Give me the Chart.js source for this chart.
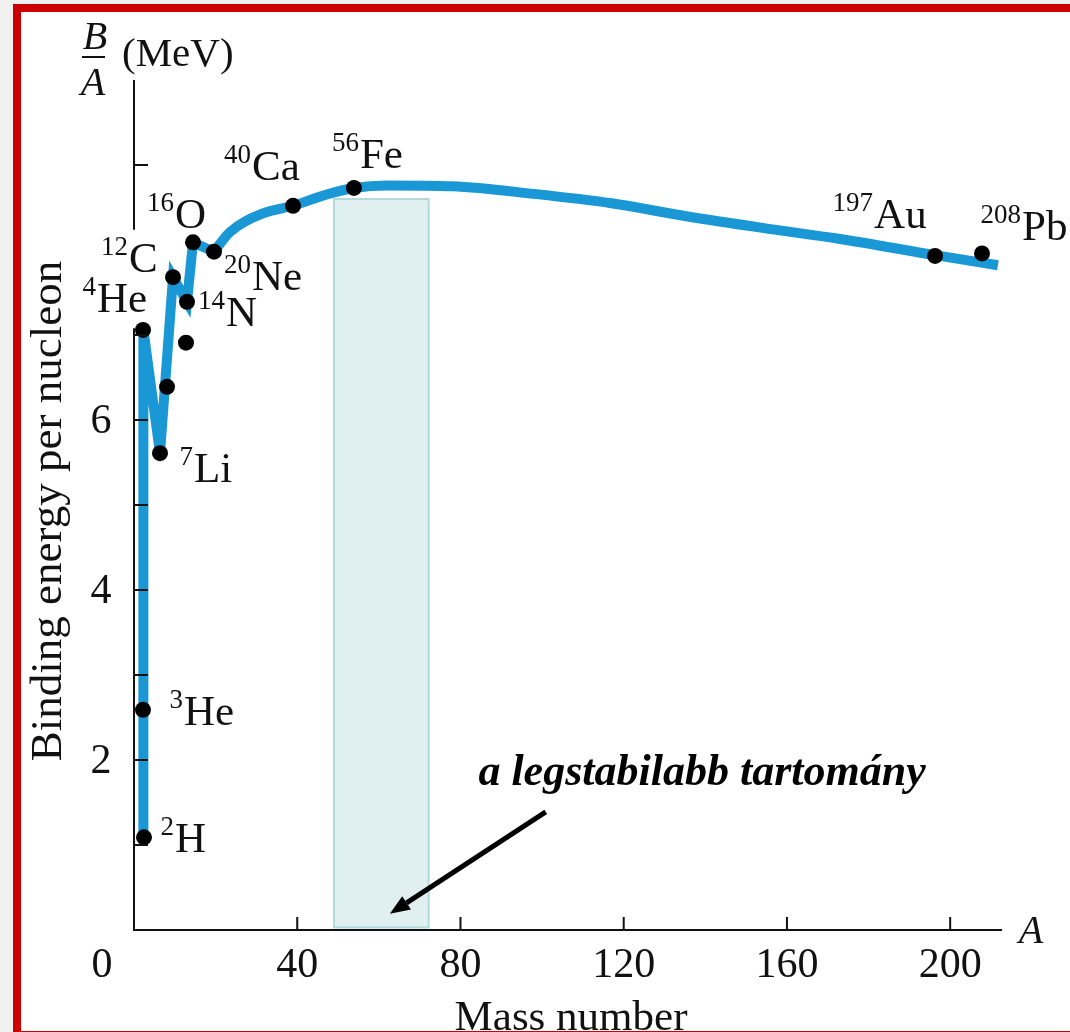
<!DOCTYPE html>
<html>
<head>
<meta charset="utf-8">
<script src="https://cdn.jsdelivr.net/npm/chart.js@4/dist/chart.umd.min.js"></script>
<style>
  html, body { margin: 0; padding: 0; background: #f0f0f0; overflow: hidden; }
  #frame { position: absolute; left: 13px; top: 4px; width: 1100px; height: 1019px;
           border: 8px solid #cc0000; background: #ffffff; }
  #c { position: absolute; left: 0; top: 0; }
</style>
</head>
<body>
<div id="frame"></div>
<canvas id="c" width="1070" height="1032"></canvas>
<script>
// ---- data ----
const nuclideMass   = ['2', '3', '4', '7', '', '12', '', '14', '16', '20', '40', '56', '197', '208'];
const nuclideSymbol = ['H', 'He', 'He', 'Li', '', 'C', '', 'N', 'O', 'Ne', 'Ca', 'Fe', 'Au', 'Pb'];
const nuclideA      = [2.45, 2.2, 2.2, 6.37, 8.09, 9.56, 12.74, 12.99, 14.46, 19.6, 38.96, 53.9, 196.3, 207.8];
const nuclideBE     = [1.09, 2.59, 7.06, 5.61, 6.39, 7.68, 6.91, 7.39, 8.09, 7.98, 8.52, 8.73, 7.93, 7.96];

// light-nuclei part of the curve (straight segments)
const lightCurveA  = [2.3, 2.3, 6.37, 9.56, 12.99, 14.46, 19.6];
const lightCurveBE = [1.05, 7.06, 5.61, 7.68, 7.39, 8.09, 7.98];
// smooth part of the curve
const heavyCurveA  = [19.6, 23.5, 31.6, 38.96, 47, 53.9, 62, 78, 98, 117, 135, 154, 173, 196.3, 211.7];
const heavyCurveBE = [7.98, 8.21, 8.43, 8.52, 8.65, 8.73, 8.76, 8.75, 8.66, 8.55, 8.40, 8.26, 8.13, 7.94, 7.82];

// axes
const xTickValues = [0, 40, 80, 120, 160, 200];
const yTickValues = [1, 2, 3, 4, 5, 6, 7, 9];
const yTickLabels = { 2: '2', 4: '4', 6: '6' };
const yAxisSegments = [[0, 7.08], [8.25, 10]];

// most stable region
const stableRegionA = [49, 72.2];
const stableRegionBE = [0.03, 8.6];
const annotationText = 'a legstabilabb tartomány';
const annotationAt = [139.2, 1.71];
const arrowFrom = [100.9, 1.39];
const arrowTo = [62.7, 0.19];

// ---- styles ----
const SERIF = '"Liberation Serif", "Times New Roman", serif';
const BLUE = '#1a98d6';

const pts = nuclideA.map((a, i) => ({ x: a, y: nuclideBE[i] }));
const light = lightCurveA.map((a, i) => ({ x: a, y: lightCurveBE[i] }));
const heavy = heavyCurveA.map((a, i) => ({ x: a, y: heavyCurveBE[i] }));

// label offsets (pixels) relative to each point: [dx, dy] to left/baseline of symbol
const labelOffsets = [
  [31, 15], [41, 15], [-46, -18], [34, 29], null, [-44, -5], null,
  [39, 24], [-18, -14], [38, 38], [-41, -26], [6, -20], [-61, -28], [40, -13]
];

const deco = {
  id: 'deco',
  beforeDatasetsDraw(chart) {
    const { ctx, scales: { x, y } } = chart;
    ctx.save();
    const x0 = x.getPixelForValue(stableRegionA[0]), x1 = x.getPixelForValue(stableRegionA[1]);
    const y0 = y.getPixelForValue(stableRegionBE[1]), y1 = y.getPixelForValue(stableRegionBE[0]);
    ctx.fillStyle = '#e0f0f0';
    ctx.fillRect(x0, y0, x1 - x0, y1 - y0);
    ctx.strokeStyle = '#b3d9de';
    ctx.lineWidth = 2;
    ctx.strokeRect(x0, y0, x1 - x0, y1 - y0);
    ctx.restore();
    ctx.miterLimit = 4;
  },
  afterDatasetsDraw(chart) {
    const { ctx, scales: { x, y } } = chart;
    ctx.save();
    ctx.strokeStyle = '#111';
    ctx.fillStyle = '#111';
    ctx.lineWidth = 2;
    ctx.lineCap = 'butt';
    const x0 = x.getPixelForValue(0), y0 = y.getPixelForValue(0);
    // x axis
    ctx.beginPath();
    ctx.moveTo(x0 - 1, y0); ctx.lineTo(x.getPixelForValue(x.max), y0);
    xTickValues.forEach(v => { if (v > 0) { const px = x.getPixelForValue(v); ctx.moveTo(px, y0); ctx.lineTo(px, y0 - 13); } });
    // y axis (broken)
    yAxisSegments.forEach(s => { ctx.moveTo(x0, y.getPixelForValue(s[0]) + 1); ctx.lineTo(x0, y.getPixelForValue(s[1])); });
    yTickValues.forEach(v => { const py = y.getPixelForValue(v); ctx.moveTo(x0, py); ctx.lineTo(x0 + 14, py); });
    ctx.stroke();

    // tick labels
    ctx.font = '42px ' + SERIF;
    ctx.textAlign = 'center';
    ctx.textBaseline = 'alphabetic';
    xTickValues.forEach(v => {
      const px = v === 0 ? x0 - 32 : x.getPixelForValue(v);
      ctx.fillText(String(v), px, 977);
    });
    ctx.textBaseline = 'middle';
    yTickValues.forEach(v => {
      if (yTickLabels[v]) ctx.fillText(yTickLabels[v], 101, y.getPixelForValue(v) + 2);
    });

    // axis titles
    ctx.textBaseline = 'alphabetic';
    ctx.font = 'italic 40px ' + SERIF;
    ctx.fillText('A', 1031, 943);
    ctx.fillText('B', 95, 49);
    ctx.fillText('A', 93, 95);
    ctx.fillRect(82, 56, 23, 2);
    ctx.font = '41px ' + SERIF;
    ctx.textAlign = 'left';
    ctx.fillText('(MeV)', 122, 66);
    ctx.textAlign = 'center';
    ctx.font = '43px ' + SERIF;
    ctx.fillText('Mass number', 571, 1030);
    ctx.save();
    ctx.translate(61, 511);
    ctx.rotate(-Math.PI / 2);
    ctx.font = '45px ' + SERIF;
    ctx.fillText('Binding energy per nucleon', 0, 0);
    ctx.restore();

    // nuclide labels
    nuclideA.forEach((a, i) => {
      const off = labelOffsets[i];
      if (!off || !nuclideSymbol[i]) return;
      const px = x.getPixelForValue(a) + off[0];
      const py = y.getPixelForValue(nuclideBE[i]) + off[1];
      ctx.font = '43px ' + SERIF;
      ctx.textAlign = 'left';
      ctx.fillText(nuclideSymbol[i], px, py);
      ctx.font = '27px ' + SERIF;
      ctx.textAlign = 'right';
      ctx.fillText(nuclideMass[i], px - 1, py - 17);
    });

    // annotation
    ctx.font = 'italic bold 44px ' + SERIF;
    ctx.textAlign = 'center';
    ctx.fillStyle = '#000';
    ctx.fillText(annotationText, x.getPixelForValue(annotationAt[0]), y.getPixelForValue(annotationAt[1]));
    const ax0 = x.getPixelForValue(arrowFrom[0]), ay0 = y.getPixelForValue(arrowFrom[1]);
    const ax1 = x.getPixelForValue(arrowTo[0]), ay1 = y.getPixelForValue(arrowTo[1]);
    const ang = Math.atan2(ay1 - ay0, ax1 - ax0);
    const headLen = 20, headW = 8;
    const bx = ax1 - headLen * Math.cos(ang), by = ay1 - headLen * Math.sin(ang);
    ctx.strokeStyle = '#000';
    ctx.lineWidth = 5;
    ctx.beginPath();
    ctx.moveTo(ax0, ay0); ctx.lineTo(bx, by);
    ctx.stroke();
    ctx.beginPath();
    ctx.moveTo(ax1, ay1);
    ctx.lineTo(bx + headW * Math.sin(ang), by - headW * Math.cos(ang));
    ctx.lineTo(bx - headW * Math.sin(ang), by + headW * Math.cos(ang));
    ctx.closePath();
    ctx.fill();
    ctx.restore();
  }
};

new Chart(document.getElementById('c'), {
  type: 'scatter',
  data: {
    datasets: [
      { data: pts, showLine: false, pointRadius: 8, pointHoverRadius: 8,
        pointBackgroundColor: '#000', pointBorderColor: '#000', pointBorderWidth: 0, order: 0 },
      { data: light, showLine: true, borderColor: BLUE, borderWidth: 10, tension: 0,
        borderJoinStyle: 'miter', borderCapStyle: 'butt', pointRadius: 0, order: 1 },
      { data: heavy, showLine: true, borderColor: BLUE, borderWidth: 10,
        cubicInterpolationMode: 'monotone', borderCapStyle: 'butt', pointRadius: 0, order: 2 }
    ]
  },
  options: {
    responsive: false,
    animation: false,
    devicePixelRatio: 1,
    layout: { autoPadding: false, padding: { left: 134, right: 68, top: 80, bottom: 102 } },
    scales: {
      x: { type: 'linear', min: 0, max: 212.7, display: false },
      y: { type: 'linear', min: 0, max: 10, display: false }
    },
    plugins: { legend: { display: false }, tooltip: { enabled: false } },
    events: []
  },
  plugins: [deco]
});
</script>
</body>
</html>
